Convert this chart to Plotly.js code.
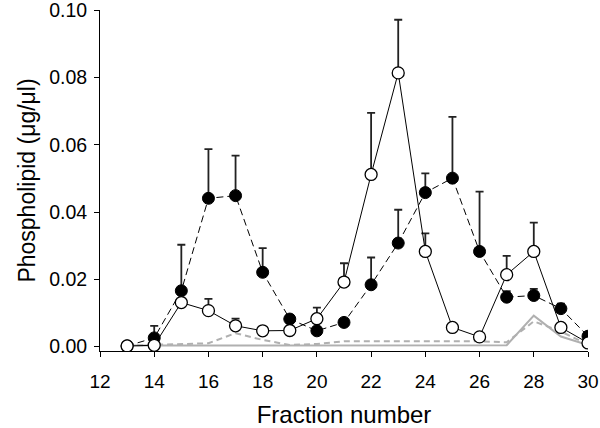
<!DOCTYPE html>
<html>
<head>
<meta charset="utf-8">
<script src="https://cdn.plot.ly/plotly-3.0.1.min.js"></script>
<style>html,body{margin:0;padding:0;background:#fff;}#chart{width:600px;height:428px;}</style>
</head>
<body>
<div id="chart"></div>
<script>
const fractions = [13,14,15,16,17,18,19,20,21,22,23,24,25,26,27,28,29,30];
const openMean = [0.0002,0.0004,0.0131,0.0107,0.0062,0.0047,0.0048,0.0083,0.0192,0.0512,0.0814,0.0283,0.0057,0.0029,0.0214,0.0283,0.0057,0.0011];
const openErr  = [0,0,0,0.0035,0.0021,0,0,0.0033,0.0056,0.0183,0.0158,0.0054,0,0,0.0056,0.0086,0,0];
const filledMean = [0.0002,0.0026,0.0166,0.0441,0.0449,0.0221,0.0082,0.0047,0.0072,0.0184,0.0308,0.0458,0.0501,0.0283,0.0147,0.0152,0.0113,0.0031];
const filledErr  = [0,0.0036,0.0137,0.0146,0.0119,0.0072,0.0012,0,0,0.0081,0.0099,0.0057,0.0182,0.0178,0.0018,0.002,0.0015,0];
const graySolid  = [0.0003,0.0003,0.0003,0.0003,0.0003,0.0003,0.0003,0.0003,0.0003,0.0003,0.0003,0.0003,0.0003,0.0003,0.0004,0.0092,0.003,0.0005];
const grayDashed = [0.0003,0.0005,0.0008,0.001,0.004,0.002,0.0005,0.0008,0.0016,0.0016,0.0016,0.0016,0.0016,0.0016,0.0013,0.0075,0.0045,0.0006];
const xTicks = [12,14,16,18,20,22,24,26,28,30];
const yTicks = [0,0.02,0.04,0.06,0.08,0.10];
const yTickText = ['0.00','0.02','0.04','0.06','0.08','0.10'];

const traces = [
  {x: fractions, y: grayDashed, mode: 'lines', line: {color: '#b0b0b0', width: 2, dash: '6px,4px'}, hoverinfo: 'skip'},
  {x: fractions, y: graySolid, mode: 'lines', line: {color: '#b0b0b0', width: 2}, hoverinfo: 'skip'},
  {x: fractions, y: filledMean, mode: 'lines+markers',
   line: {color: '#000', width: 1, dash: '7px,4px'},
   marker: {symbol: 'circle', size: 12, color: '#000', line: {color: '#000', width: 1}},
   error_y: {type: 'data', symmetric: false, array: filledErr, arrayminus: filledErr.map(() => 0), color: '#222', thickness: 1.8, width: 4}},
  {x: fractions, y: openMean, mode: 'lines+markers',
   line: {color: '#000', width: 1},
   marker: {symbol: 'circle', size: 12, color: '#fff', line: {color: '#000', width: 1.3}},
   error_y: {type: 'data', symmetric: false, array: openErr, arrayminus: openErr.map(() => 0), color: '#222', thickness: 1.8, width: 4}}
];

const layout = {
  width: 600, height: 428,
  margin: {l: 100, r: 12, t: 10, b: 77},
  paper_bgcolor: '#fff', plot_bgcolor: '#fff',
  showlegend: false,
  font: {family: 'Liberation Sans, Arial, sans-serif', color: '#000'},
  xaxis: {
    range: [12, 30], tickvals: xTicks, ticks: 'outside', ticklen: 5, tickwidth: 1, tickcolor: '#000',
    ticklabelstandoff: 8, ticklabeloverflow: 'allow',
    showline: true, linecolor: '#000', linewidth: 1, showgrid: false, zeroline: false,
    tickfont: {size: 19}, title: {text: 'Fraction number', font: {size: 24}, standoff: 17}
  },
  yaxis: {
    range: [-0.0013, 0.1001], tickvals: yTicks, ticktext: yTickText, ticks: 'outside', ticklen: 5, tickwidth: 1, tickcolor: '#000',
    ticklabelstandoff: 3, ticklabeloverflow: 'allow',
    showline: true, linecolor: '#000', linewidth: 1, showgrid: false, zeroline: false,
    tickfont: {size: 19.5}, title: {text: 'Phospholipid (μg/μl)', font: {size: 23}, standoff: 7}
  }
};
Plotly.newPlot('chart', traces, layout, {staticPlot: true});
</script>
</body>
</html>
